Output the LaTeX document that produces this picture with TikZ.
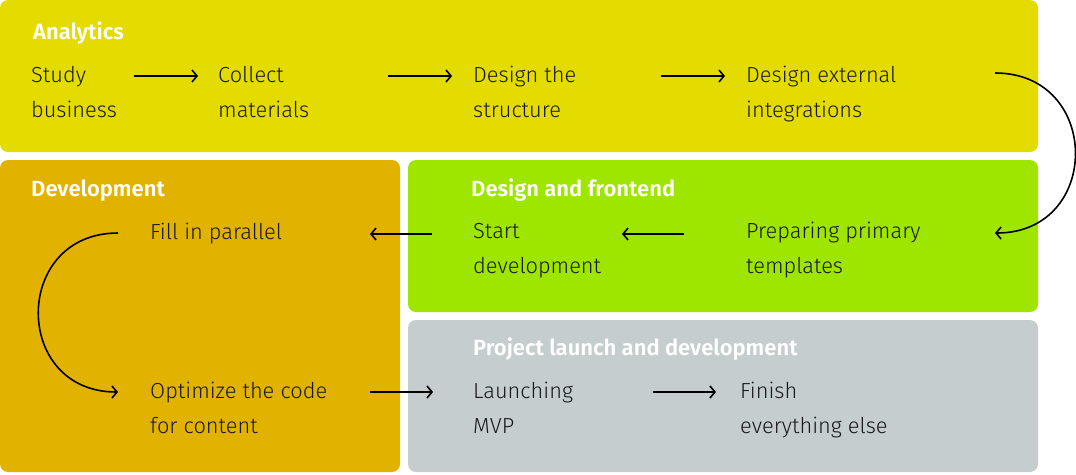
\documentclass[tikz,border=0pt]{standalone}
\usepackage{fontspec}
\setmainfont{Fira Sans}[UprightFont=* Light, BoldFont=* SemiBold]
\usetikzlibrary{arrows.meta}
\definecolor{analytics}{HTML}{E4DC00}
\definecolor{devel}{HTML}{E2B200}
\definecolor{frontend}{HTML}{9EE600}
\definecolor{launch}{HTML}{C5CDCF}
\begin{document}
\begin{tikzpicture}[x=1pt,y=-1pt]
            \tikzstyle{every node}+=[inner sep=0pt]
            \tikzstyle{stage}=[rounded corners=8pt]
            \tikzstyle{title}=[anchor=base west, text=white, font=\fontsize{22}{24}\selectfont\bfseries]
            \tikzstyle{task}=[anchor=base west, align=left, text=black!90, font=\fontsize{21.8}{35}\selectfont]
            \tikzstyle{flow}=[line width=1.6pt, -{Straight Barb[length=5pt,width=12pt]}]
                \useasboundingbox (0,0) rectangle (1076,474);
                % stage boxes
                \fill [analytics, stage] (0,0) rectangle (1038,152);
                \fill [devel, stage] (0,160) rectangle (400,472);
                \fill [frontend, stage] (408,160) rectangle (1038,312);
                \fill [launch, stage] (408,320) rectangle (1038,472);
                % titles
                \node [title] (t1) at (33,39) {Analytics};
                \node [title] (t2) at (31,196) {Development};
                \node [title] (t3) at (471,196) {Design and frontend};
                \node [title] (t4) at (473,355) {Project launch and development};
                % tasks (anchored on the last line)
                \node [task] (study) at (31,117) {Study\\business};
                \node [task] (collect) at (218,117) {Collect\\materials};
                \node [task] (struct) at (473,117) {Design the\\structure};
                \node [task] (ext) at (746,117) {Design external\\integrations};
                \node [task] (prep) at (746,273) {Preparing primary\\templates};
                \node [task] (start) at (473,273) {Start\\development};
                \node [task] (fill) at (150,239) {Fill in parallel};
                \node [task] (optim) at (150,433) {Optimize the code\\for content};
                \node [task] (mvp) at (473,433) {Launching\\MVP};
                \node [task] (finish) at (740,433) {Finish\\everything else};
                % arrows
                \draw [flow] ([xshift=-84pt,yshift=41pt]collect.base west) -- ([xshift=-20pt,yshift=41pt]collect.base west);
                \draw [flow] ([xshift=-85pt,yshift=41pt]struct.base west) -- ([xshift=-21pt,yshift=41pt]struct.base west);
                \draw [flow] ([xshift=-85pt,yshift=41pt]ext.base west) -- ([xshift=-21pt,yshift=41pt]ext.base west);
                \draw [flow] ([xshift=249pt,yshift=44pt]ext.base west) .. controls ([xshift=356pt,yshift=44pt]ext.base west) and ([xshift=356pt,yshift=40pt]prep.base west) .. ([xshift=249pt,yshift=40pt]prep.base west);
                \draw [flow] ([xshift=-62pt,yshift=39pt]prep.base west) -- ([xshift=-124pt,yshift=39pt]prep.base west);
                \draw [flow] ([xshift=-41pt,yshift=39pt]start.base west) -- ([xshift=-103pt,yshift=39pt]start.base west);
                \draw [flow] ([xshift=-32pt,yshift=6pt]fill.base west) .. controls ([xshift=-138pt,yshift=6pt]fill.base west) and ([xshift=-138pt,yshift=41pt]optim.base west) .. ([xshift=-32pt,yshift=41pt]optim.base west);
                \draw [flow] ([xshift=220pt,yshift=41pt]optim.base west) -- ([xshift=283pt,yshift=41pt]optim.base west);
                \draw [flow] ([xshift=-87pt,yshift=41pt]finish.base west) -- ([xshift=-24pt,yshift=41pt]finish.base west);
            \end{tikzpicture}
\end{document}
